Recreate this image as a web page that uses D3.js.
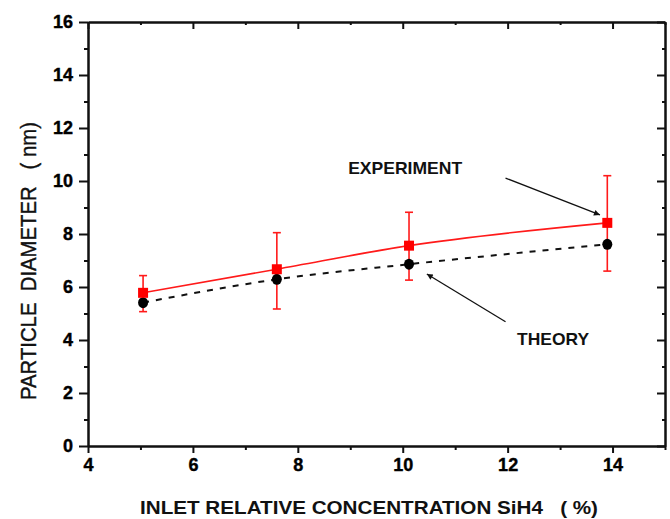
<!DOCTYPE html>
<html>
<head>
<meta charset="utf-8">
<script src="https://cdn.jsdelivr.net/npm/d3@7"></script>
<style>
  html, body { margin: 0; padding: 0; background: #fff; }
  svg { display: block; font-family: 'Liberation Sans', Arial, sans-serif; }
  .axis path, .axis line { stroke: #111; }
  .axis text { font-weight: bold; font-size: 18px; fill: #000; stroke: #000; stroke-width: 0.4px; }
</style>
</head>
<body>
<main></main>
<script>
// Data
const concentration = [5.05, 7.6, 10.12, 13.9];
const experiment = [5.78, 6.67, 7.56, 8.42];
const expUpper = [6.43, 8.05, 8.82, 10.2];
const expLower = [5.07, 5.17, 6.26, 6.6];
const theory = [5.41, 6.29, 6.86, 7.61];

const xMajorTicks = [4, 6, 8, 10, 12, 14];
const xMinorTicks = [5, 7, 9, 11, 13, 15];
const yMajorTicks = [0, 2, 4, 6, 8, 10, 12, 14, 16];
const yMinorTicks = [1, 3, 5, 7, 9, 11, 13, 15];

// Annotations in data units
const notes = [
  { text: 'EXPERIMENT', x: 8.96, y: 10.26, len: 114, from: [11.96, 10.11], to: [13.76, 8.72] },
  { text: 'THEORY', x: 12.18, y: 3.81, len: 72, from: [11.96, 4.69], to: [10.46, 6.49] },
];

// Layout
const WIDTH = 670;
const HEIGHT = 519;
const margin = { top: 22, right: 5, bottom: 73, left: 88 };

const svg = d3.select('main')
  .append('svg')
  .attr('width', WIDTH)
  .attr('height', HEIGHT);

const xScale = d3.scaleLinear([4, 15], [margin.left, WIDTH - margin.right]);
const yScale = d3.scaleLinear([0, 16], [HEIGHT - margin.bottom, margin.top]);

const x0 = xScale.range()[0], x1 = xScale.range()[1];
const y0 = yScale.range()[0], y1 = yScale.range()[1];

// Arrow marker
svg.append('defs')
  .append('marker')
  .attr('id', 'arrow')
  .attr('viewBox', '0 0 10 10')
  .attr('refX', 10)
  .attr('refY', 5)
  .attr('markerWidth', 9)
  .attr('markerHeight', 6)
  .attr('markerUnits', 'userSpaceOnUse')
  .attr('orient', 'auto')
  .append('path')
  .attr('d', 'M0,0 L10,5 L0,10 Z')
  .attr('fill', '#111');

// Axes helper
function addAxis(axis, transform, width) {
  const g = svg.append('g')
    .attr('class', 'axis')
    .attr('transform', transform)
    .call(axis);
  g.selectAll('path, line').attr('stroke-width', width);
  return g;
}

// Bottom
addAxis(d3.axisBottom(xScale).tickValues(xMinorTicks).tickSize(4).tickFormat('').tickSizeOuter(0),
  `translate(0,${y0})`, 2);
addAxis(d3.axisBottom(xScale).tickValues(xMajorTicks).tickSize(7).tickPadding(5).tickSizeOuter(0),
  `translate(0,${y0})`, 2);
// Top (ticks inward)
addAxis(d3.axisBottom(xScale).tickValues(xMinorTicks).tickSize(3).tickFormat('').tickSizeOuter(0),
  `translate(0,${y1})`, 2);
addAxis(d3.axisBottom(xScale).tickValues(xMajorTicks).tickSize(7).tickFormat('').tickSizeOuter(0),
  `translate(0,${y1})`, 2);
// Left
addAxis(d3.axisLeft(yScale).tickValues(yMinorTicks).tickSize(4).tickFormat('').tickSizeOuter(0),
  `translate(${x0},0)`, 2);
addAxis(d3.axisLeft(yScale).tickValues(yMajorTicks).tickSize(9).tickPadding(6).tickSizeOuter(0),
  `translate(${x0},0)`, 2);
// Right (ticks inward)
addAxis(d3.axisLeft(yScale).tickValues(yMinorTicks).tickSize(3).tickFormat('').tickSizeOuter(0),
  `translate(${x1},0)`, 2);
addAxis(d3.axisLeft(yScale).tickValues(yMajorTicks).tickSize(8).tickFormat('').tickSizeOuter(0),
  `translate(${x1},0)`, 2);

svg.selectAll('.axis text').attr('font-family', "'Liberation Sans', Arial, sans-serif");

// Axis titles
svg.append('text')
  .attr('x', 140)
  .attr('y', 514)
  .attr('textLength', 458)
  .attr('lengthAdjust', 'spacingAndGlyphs')
  .attr('font-size', 19)
  .attr('font-weight', 'bold')
  .attr('fill', '#111')
  .attr('xml:space', 'preserve')
  .text('INLET RELATIVE CONCENTRATION SiH4   ( %)');

svg.append('text')
  .attr('transform', 'translate(36,400) rotate(-90)')
  .attr('textLength', 278)
  .attr('lengthAdjust', 'spacingAndGlyphs')
  .attr('font-size', 22)
  .attr('fill', '#111')
  .attr('stroke', '#111')
  .attr('stroke-width', 0.4)
  .attr('xml:space', 'preserve')
  .text('PARTICLE  DIAMETER   ( nm)');

// Series
const pts = concentration.map((c, i) => ({
  x: c, exp: experiment[i], hi: expUpper[i], lo: expLower[i], th: theory[i],
}));

const theoryLine = d3.line()
  .x((d) => xScale(d.x))
  .y((d) => yScale(d.th))
  .curve(d3.curveMonotoneX);

const expLine = d3.line()
  .x((d) => xScale(d.x))
  .y((d) => yScale(d.exp))
  .curve(d3.curveMonotoneX);

svg.append('path')
  .attr('d', theoryLine(pts))
  .attr('fill', 'none')
  .attr('stroke', '#111')
  .attr('stroke-width', 2)
  .attr('stroke-dasharray', '6,7');

svg.append('path')
  .attr('d', expLine(pts))
  .attr('fill', 'none')
  .attr('stroke', '#ff1a1a')
  .attr('stroke-width', 1.6);

// Error bars
const err = svg.append('g').attr('stroke', '#ff1a1a').attr('stroke-width', 1.6);
err.selectAll('line.v')
  .data(pts)
  .enter()
  .append('line')
  .attr('x1', (d) => xScale(d.x))
  .attr('x2', (d) => xScale(d.x))
  .attr('y1', (d) => yScale(d.hi))
  .attr('y2', (d) => yScale(d.lo));
['hi', 'lo'].forEach((k) => {
  err.selectAll(`line.${k}`)
    .data(pts)
    .enter()
    .append('line')
    .attr('class', k)
    .attr('x1', (d) => xScale(d.x) - 4)
    .attr('x2', (d) => xScale(d.x) + 4)
    .attr('y1', (d) => yScale(d[k]))
    .attr('y2', (d) => yScale(d[k]));
});

// Markers
svg.selectAll('circle.th')
  .data(pts)
  .enter()
  .append('ellipse')
  .attr('cx', (d) => xScale(d.x))
  .attr('cy', (d) => yScale(d.th))
  .attr('rx', 5)
  .attr('ry', 5.5)
  .attr('fill', '#000');

svg.selectAll('rect.exp')
  .data(pts)
  .enter()
  .append('rect')
  .attr('x', (d) => xScale(d.x) - 5)
  .attr('y', (d) => yScale(d.exp) - 5)
  .attr('width', 10)
  .attr('height', 10)
  .attr('fill', '#ff0000');

// Annotations
notes.forEach((n) => {
  svg.append('text')
    .attr('x', xScale(n.x))
    .attr('y', yScale(n.y))
    .attr('textLength', n.len)
    .attr('lengthAdjust', 'spacingAndGlyphs')
    .attr('font-size', 17)
    .attr('font-weight', 'bold')
    .attr('fill', '#111')
    .text(n.text);

  svg.append('line')
    .attr('x1', xScale(n.from[0]))
    .attr('y1', yScale(n.from[1]))
    .attr('x2', xScale(n.to[0]))
    .attr('y2', yScale(n.to[1]))
    .attr('stroke', '#111')
    .attr('stroke-width', 1.3)
    .attr('marker-end', 'url(#arrow)');
});
</script>
</body>
</html>
